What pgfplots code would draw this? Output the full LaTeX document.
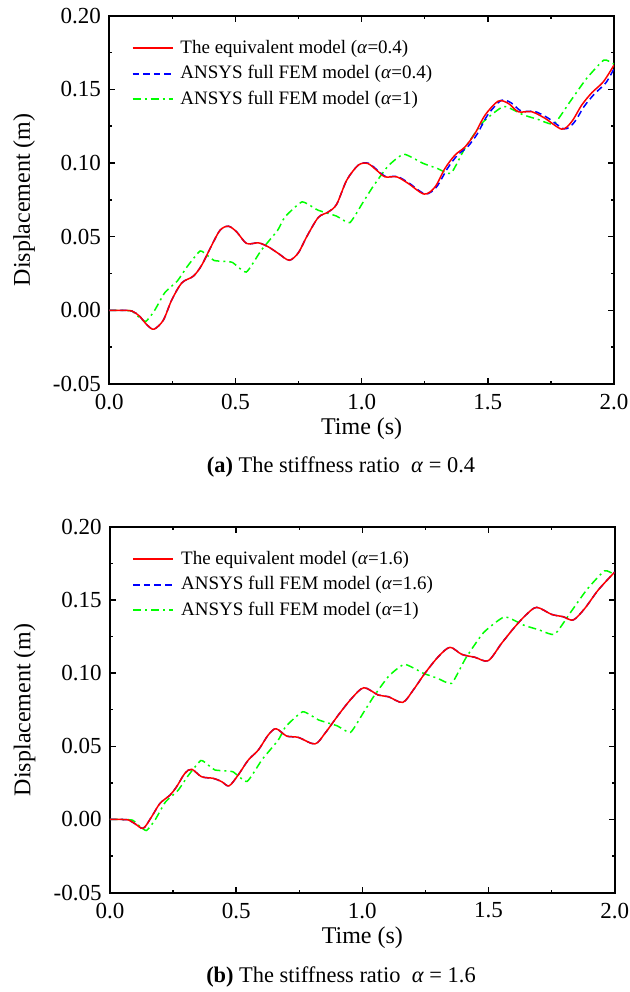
\documentclass[border=0pt]{standalone}
\usepackage{fontspec}
\setmainfont{Liberation Serif}
\usepackage{pgfplots}
\pgfplotsset{compat=1.18}

\pgfplotstableread{
t d
0 0
0.05 0
0.09 -0.0005
0.12 -0.004
0.15 -0.010
0.177 -0.0128
0.214 -0.0067
0.247 0.0069
0.287 0.0186
0.333 0.0232
0.366 0.0306
0.406 0.0442
0.439 0.0544
0.472 0.0571
0.505 0.0532
0.544 0.0454
0.591 0.0458
0.630 0.0431
0.670 0.0386
0.713 0.0340
0.749 0.0390
0.782 0.0499
0.828 0.0630
0.868 0.0668
0.901 0.0720
0.941 0.0884
0.987 0.0986
1.024 0.0997
1.060 0.0950
1.093 0.0906
1.139 0.0906
1.185 0.0861
1.248 0.0789
1.291 0.0838
1.330 0.0963
1.370 0.1054
1.410 0.1110
1.449 0.1200
1.489 0.1325
1.541 0.1420
1.581 0.1405
1.621 0.1348
1.674 0.1348
1.727 0.1303
1.793 0.1230
1.832 0.1280
1.872 0.1393
1.912 0.1477
1.958 0.1552
2.0 0.1665
}\eqa

\pgfplotstableread{
t d
0 0
0.05 0
0.09 -0.0005
0.12 -0.004
0.15 -0.010
0.177 -0.0128
0.214 -0.0067
0.247 0.0069
0.287 0.0186
0.333 0.0232
0.366 0.0306
0.406 0.0442
0.439 0.0544
0.472 0.0571
0.505 0.0532
0.544 0.0454
0.591 0.0458
0.630 0.0431
0.670 0.0386
0.713 0.0340
0.749 0.0390
0.782 0.0499
0.828 0.0630
0.868 0.0668
0.901 0.0720
0.941 0.0884
0.987 0.0986
1.026 0.0999
1.062 0.0952
1.096 0.0908
1.142 0.0908
1.189 0.0862
1.252 0.0790
1.296 0.0836
1.340 0.0963
1.380 0.1054
1.420 0.1110
1.459 0.1200
1.499 0.1325
1.553 0.1425
1.593 0.1408
1.633 0.1352
1.686 0.1350
1.739 0.1305
1.803 0.1232
1.842 0.1275
1.882 0.1385
1.922 0.1468
1.968 0.1545
2.0 0.1640
}\fema

\pgfplotstableread{
t d
0 0
0.05 0
0.09 -0.0005
0.12 -0.005
0.145 -0.0075
0.178 -0.0005
0.22 0.0120
0.27 0.0200
0.31 0.0300
0.360 0.0403
0.392 0.0368
0.416 0.0338
0.440 0.0334
0.487 0.0326
0.543 0.0260
0.603 0.0410
0.667 0.0543
0.696 0.0634
0.764 0.0736
0.827 0.0680
0.900 0.0640
0.953 0.0595
1.005 0.0732
1.045 0.0840
1.105 0.0980
1.167 0.1060
1.243 0.0998
1.299 0.0964
1.354 0.0930
1.409 0.1100
1.480 0.1276
1.563 0.1384
1.640 0.1327
1.699 0.1296
1.762 0.1265
1.824 0.1412
1.890 0.1571
1.960 0.1699
2.0 0.1671
}\femone

\pgfplotstableread{
t d
0 0
0.05 0
0.073 -0.0003
0.10 -0.003
0.132 -0.006
0.165 0.0019
0.198 0.0110
0.238 0.0167
0.264 0.0224
0.297 0.0316
0.324 0.0343
0.363 0.0292
0.410 0.0281
0.443 0.0258
0.472 0.0230
0.508 0.0304
0.548 0.0406
0.588 0.0475
0.627 0.0577
0.658 0.0620
0.700 0.0570
0.746 0.0561
0.812 0.0516
0.852 0.0589
0.905 0.0714
0.958 0.0828
1.006 0.0900
1.063 0.0850
1.103 0.0839
1.160 0.0800
1.202 0.0885
1.248 0.0999
1.301 0.1112
1.347 0.1176
1.394 0.1128
1.446 0.1108
1.499 0.1085
1.552 0.1204
1.605 0.1317
1.650 0.1400
1.691 0.1449
1.750 0.1401
1.796 0.1385
1.836 0.1363
1.882 0.1443
1.935 0.1568
2.0 0.1690
}\eqb

\pgfplotsset{dispax/.style={scale only axis, width=252.35pt,
  xmin=0, xmax=2, ymin=-0.05, ymax=0.2,
  axis line style={black, line width=1pt}, tick style={black, line width=0.7pt},
  tick align=inside, major tick length=2.9pt, minor tick length=1.5pt,
  xtick={0,0.5,1,1.5,2}, xticklabels={0.0,0.5,1.0,1.5,2.0},
  ytick={-0.05,0,0.05,0.1,0.15,0.2}, yticklabels={-0.05,0.00,0.05,0.10,0.15,0.20},
  minor x tick num=1, minor y tick num=1,
  tick label style={font=\fontsize{11.5}{13}\selectfont},
  xticklabel style={yshift=-1.5pt}, yticklabel style={xshift=-0.7pt},
  xlabel={Time (s)}, ylabel={Displacement (m)},
  label style={font=\fontsize{12}{14}\selectfont},
  xlabel style={at={(axis description cs:0.5,0)}, anchor=base, yshift=-25.5pt, inner sep=0pt},
  ylabel style={at={(axis description cs:0,0.5)}, anchor=south, yshift=37pt, inner sep=0pt},
  reverse legend, legend cell align=left,
  legend style={at={(axis description cs:0,1)}, anchor=north west, xshift=11pt, yshift=-11.5pt,
    draw=none, fill=none, inner sep=0pt, row sep=3.25pt, column sep=3.5pt,
    font=\fontsize{9.5}{11}\selectfont,
    nodes={inner sep=0pt, text height=7pt, text depth=2.5pt}},
  legend image code/.code={\draw[#1, line width=0.9pt] (0pt,0.25pt) -- (20pt,0.25pt);}},
  eqline/.style={red, line width=0.75pt, smooth, tension=0.5},
  femline/.style={blue, line width=0.75pt, smooth, tension=0.5, dash pattern=on 3.3pt off 2pt},
  oneline/.style={green, line width=0.75pt, smooth, tension=0.3, dash pattern=on 4pt off 2pt on 1pt off 2pt}}

\begin{document}
\begin{tikzpicture}
\useasboundingbox (0,0) rectangle (314.5pt,496pt);
\begin{axis}[dispax, height=184.15pt, at={(54.65pt,304pt)}, anchor=south west]
\addplot[oneline] table[x=t, y=d] {\femone};
\addlegendentry{ANSYS full FEM model (\textit{α}=1)}
\addplot[femline] table[x=t, y=d] {\fema};
\addlegendentry{ANSYS full FEM model (\textit{α}=0.4)}
\addplot[eqline] table[x=t, y=d] {\eqa};
\addlegendentry{The equivalent model (\textit{α}=0.4)}
\end{axis}
\node[anchor=base, font=\fontsize{11.2}{13}\selectfont] at (170.5pt,259.75pt) {\textbf{(a)} The stiffness ratio\ \ \textit{α} = 0.4};

\begin{axis}[dispax, height=183pt, at={(55pt,49.65pt)}, anchor=south west]
\addplot[oneline] table[x=t, y=d] {\femone};
\addlegendentry{ANSYS full FEM model (\textit{α}=1)}
\addplot[femline] table[x=t, y=d] {\eqb};
\addlegendentry{ANSYS full FEM model (\textit{α}=1.6)}
\addplot[eqline] table[x=t, y=d] {\eqb};
\addlegendentry{The equivalent model (\textit{α}=1.6)}
\end{axis}
\node[anchor=base, font=\fontsize{11.2}{13}\selectfont] at (170.5pt,5pt) {\textbf{(b)} The stiffness ratio\ \ \textit{α} = 1.6};
\end{tikzpicture}
\end{document}
